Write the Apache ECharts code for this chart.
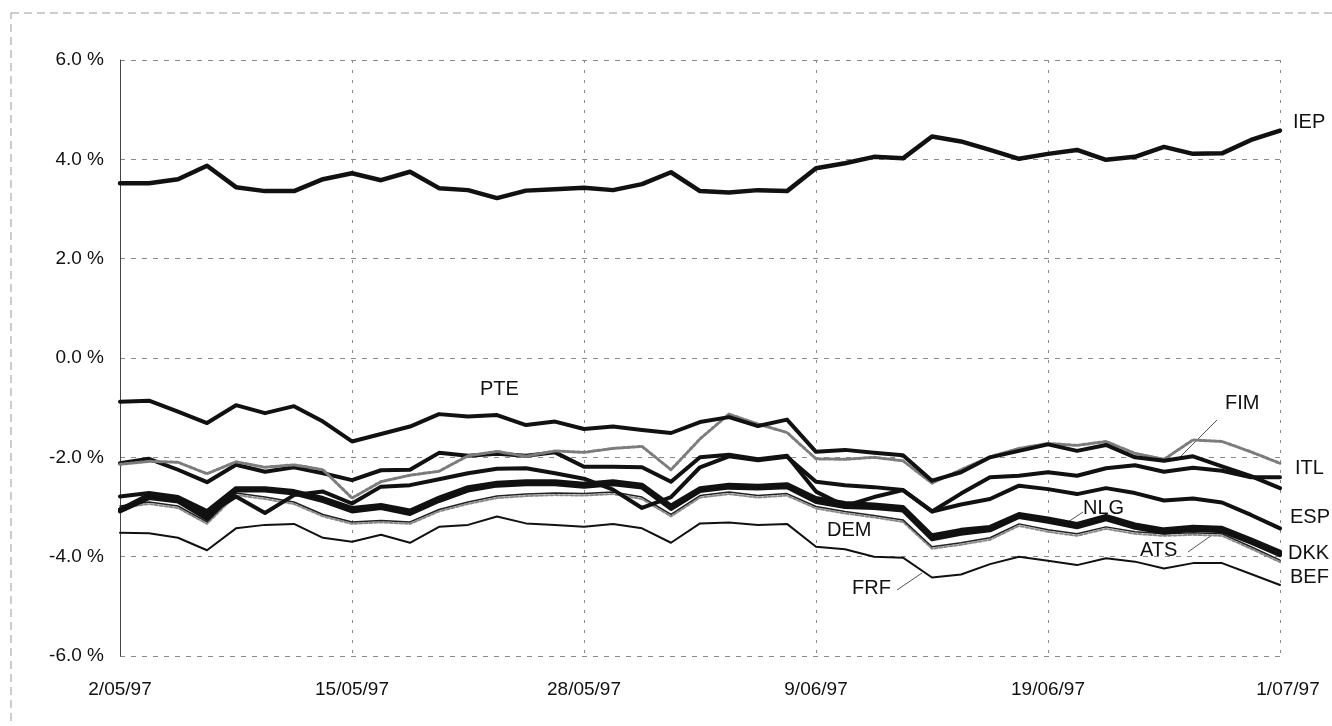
<!DOCTYPE html>
<html>
<head>
<meta charset="utf-8">
<title>ERM spreads 1997</title>
<script src="https://cdn.jsdelivr.net/npm/echarts@6/dist/echarts.min.js"></script>
<style>
html, body { margin: 0; padding: 0; background: #fff; }
#chart { width: 1332px; height: 726px; }
</style>
</head>
<body>
<div id="chart"></div>
<script>
// business days, 2 May - 1 July 1997
const dates = [
  '2/05/97', '5/05/97', '6/05/97', '7/05/97', '9/05/97', '12/05/97', '13/05/97', '14/05/97', '15/05/97', '16/05/97',
  '20/05/97', '21/05/97', '22/05/97', '23/05/97', '26/05/97', '27/05/97', '28/05/97', '29/05/97', '30/05/97', '2/06/97',
  '3/06/97', '4/06/97', '5/06/97', '6/06/97', '9/06/97', '10/06/97', '11/06/97', '12/06/97', '13/06/97', '16/06/97',
  '17/06/97', '18/06/97', '19/06/97', '20/06/97', '23/06/97', '24/06/97', '25/06/97', '26/06/97', '27/06/97', '30/06/97', '1/07/97'
]

const IEP = [
  3.52, 3.52, 3.60, 3.87, 3.44, 3.36, 3.36, 3.60, 3.72, 3.58,
  3.75, 3.42, 3.38, 3.22, 3.37, 3.40, 3.43, 3.38, 3.50, 3.74,
  3.36, 3.33, 3.38, 3.36, 3.82, 3.92, 4.05, 4.02, 4.46, 4.36,
  4.19, 4.01, 4.11, 4.19, 3.99, 4.05, 4.25, 4.11, 4.12, 4.39, 4.58
]
const PTE = [
  -0.88, -0.86, -1.08, -1.31, -0.95, -1.11, -0.97, -1.28, -1.68, -1.53,
  -1.38, -1.13, -1.18, -1.15, -1.35, -1.28, -1.43, -1.38, -1.45, -1.51,
  -1.29, -1.19, -1.37, -1.24, -1.89, -1.85, -1.91, -1.96, -2.47, -2.30,
  -2.00, -1.87, -1.74, -1.87, -1.75, -2.00, -2.07, -1.98, -2.18, -2.38, -2.62
]
const FIM = [
  -2.14, -2.08, -2.10, -2.33, -2.09, -2.20, -2.15, -2.25, -2.82, -2.49,
  -2.36, -2.28, -1.97, -1.88, -1.98, -1.87, -1.90, -1.82, -1.78, -2.25,
  -1.63, -1.13, -1.33, -1.50, -2.03, -2.04, -2.00, -2.07, -2.52, -2.25,
  -1.99, -1.82, -1.72, -1.76, -1.68, -1.92, -2.04, -1.65, -1.68, -1.89, -2.12
]
const ITL = [
  -2.12, -2.03, -2.25, -2.50, -2.15, -2.29, -2.20, -2.32, -2.46, -2.26,
  -2.25, -1.91, -1.97, -1.93, -1.97, -1.90, -2.19, -2.19, -2.20, -2.49,
  -2.00, -1.95, -2.04, -1.97, -2.69, -2.98, -2.80, -2.66, -3.09, -2.73,
  -2.40, -2.37, -2.30, -2.37, -2.22, -2.16, -2.29, -2.21, -2.27, -2.40, -2.40
]
const ESP = [
  -3.05, -2.75, -2.82, -3.15, -2.79, -3.12, -2.76, -2.69, -2.93, -2.59,
  -2.56, -2.44, -2.32, -2.23, -2.22, -2.32, -2.43, -2.65, -3.02, -2.80,
  -2.20, -1.98, -2.06, -1.99, -2.49, -2.56, -2.60, -2.66, -3.09, -2.95,
  -2.84, -2.57, -2.64, -2.74, -2.62, -2.72, -2.87, -2.83, -2.91, -3.16, -3.43
]
const DEM = [
  -2.79, -2.72, -2.80, -3.08, -2.62, -2.62, -2.68, -2.82, -3.02, -2.96,
  -3.07, -2.81, -2.60, -2.51, -2.48, -2.48, -2.53, -2.48, -2.55, -2.97,
  -2.62, -2.55, -2.57, -2.54, -2.82, -2.92, -2.95, -3.00, -3.57, -3.46,
  -3.40, -3.14, -3.23, -3.34, -3.18, -3.35, -3.45, -3.40, -3.42, -3.65, -3.90
]
const NLG = [
  -3.05, -2.78, -2.85, -3.20, -2.64, -2.64, -2.70, -2.84, -3.05, -2.98,
  -3.10, -2.84, -2.63, -2.53, -2.50, -2.50, -2.55, -2.50, -2.57, -3.00,
  -2.64, -2.57, -2.59, -2.56, -2.86, -2.96, -2.98, -3.03, -3.61, -3.50,
  -3.43, -3.16, -3.26, -3.37, -3.21, -3.38, -3.48, -3.42, -3.45, -3.68, -3.93
]
const DKK = [
  -3.09, -2.82, -2.89, -3.24, -2.67, -2.67, -2.73, -2.88, -3.09, -3.02,
  -3.14, -2.88, -2.67, -2.57, -2.54, -2.54, -2.59, -2.54, -2.61, -3.04,
  -2.68, -2.61, -2.63, -2.60, -2.90, -3.00, -3.02, -3.07, -3.65, -3.54,
  -3.47, -3.20, -3.30, -3.41, -3.25, -3.42, -3.52, -3.46, -3.49, -3.72, -3.97
]
const ATS = [
  -2.98, -2.90, -2.98, -3.30, -2.72, -2.80, -2.90, -3.15, -3.30, -3.27,
  -3.30, -3.05, -2.90, -2.78, -2.74, -2.72, -2.73, -2.70, -2.80, -3.15,
  -2.77, -2.70, -2.77, -2.73, -2.99, -3.09, -3.17, -3.26, -3.80, -3.72,
  -3.62, -3.34, -3.46, -3.54, -3.40, -3.50, -3.54, -3.52, -3.54, -3.80, -4.07
]
const BEF = [
  -3.02, -2.94, -3.02, -3.34, -2.76, -2.84, -2.94, -3.19, -3.34, -3.31,
  -3.34, -3.09, -2.94, -2.82, -2.78, -2.76, -2.77, -2.74, -2.84, -3.19,
  -2.81, -2.74, -2.81, -2.77, -3.03, -3.13, -3.21, -3.30, -3.84, -3.76,
  -3.66, -3.38, -3.50, -3.58, -3.44, -3.54, -3.58, -3.56, -3.58, -3.84, -4.11
]
const FRF = [
  -3.52, -3.53, -3.62, -3.87, -3.43, -3.36, -3.34, -3.62, -3.70, -3.56,
  -3.72, -3.40, -3.36, -3.19, -3.33, -3.36, -3.40, -3.34, -3.43, -3.72,
  -3.33, -3.31, -3.36, -3.34, -3.80, -3.85, -4.00, -4.02, -4.42, -4.36,
  -4.15, -4.00, -4.08, -4.17, -4.03, -4.10, -4.24, -4.13, -4.13, -4.35, -4.57
]

const FONT = '"Liberation Sans", Arial, sans-serif'
const INK = '#111'

// line styles: heavy black, thin black, grey speckled
const line = (name, data, width, color, type) => ({
  name,
  type: 'line',
  data,
  symbol: 'none',
  silent: true,
  animation: false,
  lineStyle: { color, width, type: type || 'solid', cap: 'round', join: 'round' }
})

// currency tags written next to the curves (pixel positions)
const tags = [
  { text: 'IEP', x: 1293, y: 122 },
  { text: 'PTE', x: 480, y: 389 },
  { text: 'FIM', x: 1225, y: 403 },
  { text: 'ITL', x: 1295, y: 468 },
  { text: 'ESP', x: 1290, y: 517 },
  { text: 'NLG', x: 1083, y: 508 },
  { text: 'DEM', x: 827, y: 530 },
  { text: 'ATS', x: 1140, y: 550 },
  { text: 'DKK', x: 1288, y: 553 },
  { text: 'BEF', x: 1290, y: 577 },
  { text: 'FRF', x: 852, y: 588 }
]
const leaders = [
  [1217, 420, 1177, 460],
  [1083, 512, 1068, 522],
  [1188, 552, 1212, 535],
  [897, 590, 922, 573]
]

const chart = echarts.init(document.getElementById('chart'))

chart.setOption({
  backgroundColor: '#fff',
  animation: false,
  grid: { left: 120, right: 52, top: 60, bottom: 70 },
  xAxis: {
    type: 'category',
    data: dates,
    boundaryGap: false,
    axisLine: { show: false },
    axisTick: { show: false },
    axisLabel: {
      interval: 7,
      margin: 24,
      color: INK,
      fontSize: 19,
      fontFamily: FONT,
      // last date sits a little right of its gridline in the original
      formatter: (val, idx) => idx === dates.length - 1 ? '{last|' + val + '}' : val,
      rich: { last: { padding: [0, 0, 0, 16], color: INK, fontSize: 19, fontFamily: FONT } }
    },
    splitLine: { show: true, interval: 7, lineStyle: { color: '#8a8a8a', width: 1, type: [3, 7] } }
  },
  yAxis: {
    type: 'value',
    min: -6,
    max: 6,
    interval: 2,
    axisLine: { show: true, lineStyle: { color: '#444', width: 1 } },
    axisTick: { show: false },
    axisLabel: {
      margin: 16,
      color: INK,
      fontSize: 19,
      fontFamily: FONT,
      formatter: v => v.toFixed(1) + ' %'
    },
    splitLine: { show: true, lineStyle: { color: '#8a8a8a', width: 1, type: [5, 6] } }
  },
  series: [
    line('FRF', FRF, 2, INK),
    line('BEF', BEF, 2, '#8a8a8a', [3, 2]),
    line('ATS', ATS, 1.5, '#222'),
    line('DKK', DKK, 4, INK),
    line('NLG', NLG, 4, INK),
    line('DEM', DEM, 4, INK),
    line('ESP', ESP, 4, INK),
    line('ITL', ITL, 4, INK),
    line('FIM', FIM, 3, '#7c7c7c', [3, 2]),
    line('PTE', PTE, 4, INK),
    line('IEP', IEP, 4.5, INK)
  ],
  graphic: [
    // scanned page frame
    {
      type: 'rect',
      silent: true,
      shape: { x: 11, y: 13, width: 1400, height: 800 },
      style: { fill: 'none', stroke: '#9a9a9a', lineWidth: 1, lineDash: [8, 5] }
    },
    ...leaders.map(l => ({
      type: 'line',
      silent: true,
      shape: { x1: l[0], y1: l[1], x2: l[2], y2: l[3] },
      style: { stroke: '#555', lineWidth: 1 }
    })),
    ...tags.map(t => ({
      type: 'text',
      silent: true,
      x: t.x,
      y: t.y,
      style: {
        text: t.text,
        fill: INK,
        fontSize: 20,
        fontFamily: FONT,
        align: 'left',
        verticalAlign: 'middle'
      }
    }))
  ]
})
</script>
</body>
</html>
